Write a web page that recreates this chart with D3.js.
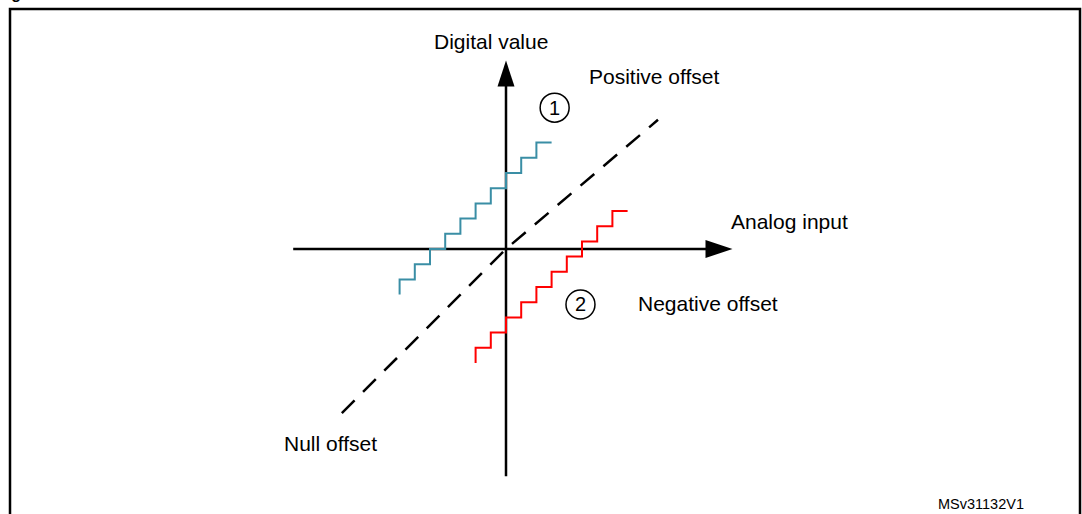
<!DOCTYPE html>
<html>
<head>
<meta charset="utf-8">
<script src="https://cdn.jsdelivr.net/npm/d3@7/dist/d3.min.js"></script>
<style>
  html, body { margin: 0; padding: 0; background: #fff; }
  svg { display: block; font-family: "Liberation Sans", Arial, sans-serif; }
</style>
</head>
<body>
<svg id="chart" width="1082" height="514"></svg>
<script>
// ---- data (in code-step units; origin = axis crossing) ----
const positiveX = [-7, -7, -6, -5, -4, -3, -2, -1, 0, 1, 2, 3];
const positiveY = [-3, -2, -1, 0, 1, 2, 3, 4, 5, 6, 7, 7];
const negativeX = [-2, -2, -1, 0, 1, 2, 3, 4, 5, 6, 7, 8];
const negativeY = [-7.5, -6.5, -5.5, -4.5, -3.5, -2.5, -1.5, -0.5, 0.5, 1.5, 2.5, 2.5];
const nullX = [-10.8, 0, 10.0];
const nullY = [-10.8, 0, 8.5];
const xAxisExtent = [-14.0, 14.9];
const yAxisExtent = [-14.95, 12.4];
const labels = ["Digital value", "Analog input", "Positive offset", "Negative offset", "Null offset"];
const markers = ["1", "2"];
const markerX = [3.2, 4.9];
const markerY = [9.3, -3.65];
const figureId = "MSv31132V1";

// ---- scales ----
const unit = 15.2;
const x = d3.scaleLinear().domain([-10, 10]).range([506 - 10 * unit, 506 + 10 * unit]);
const y = d3.scaleLinear().domain([-10, 10]).range([249 + 10 * unit, 249 - 10 * unit]);

const svg = d3.select("#chart");

// figure caption fragment (cut off at the top) and frame
svg.append("text").attr("x", -3).attr("y", -1)
  .attr("font-size", 16).attr("font-weight", "bold").attr("fill", "#000")
  .text("Figure");
svg.append("rect").attr("x", 10).attr("y", 9).attr("width", 1070).attr("height", 520)
  .attr("fill", "none").attr("stroke", "#000").attr("stroke-width", 2.5);

// axes
const x0 = x(0), y0 = y(0);
const ah = 27, aw = 9;
svg.append("line")
  .attr("x1", x(xAxisExtent[0])).attr("y1", y0)
  .attr("x2", x(xAxisExtent[1]) - ah + 2).attr("y2", y0)
  .attr("stroke", "#000").attr("stroke-width", 2.5);
svg.append("path")
  .attr("d", d3.line()([[x(xAxisExtent[1]), y0], [x(xAxisExtent[1]) - ah, y0 - aw], [x(xAxisExtent[1]) - ah, y0 + aw]]) + "Z")
  .attr("fill", "#000");
svg.append("line")
  .attr("x1", x0).attr("y1", y(yAxisExtent[0]))
  .attr("x2", x0).attr("y2", y(yAxisExtent[1]) + ah - 2)
  .attr("stroke", "#000").attr("stroke-width", 2.5);
svg.append("path")
  .attr("d", d3.line()([[x0, y(yAxisExtent[1])], [x0 - 8.5, y(yAxisExtent[1]) + 26], [x0 + 8.5, y(yAxisExtent[1]) + 26]]) + "Z")
  .attr("fill", "#000");

// null-offset dashed line
const lineGen = d3.line().x(d => x(d[0])).y(d => y(d[1]));
svg.append("path")
  .attr("d", lineGen(nullX.map((v, i) => [v, nullY[i]])))
  .attr("fill", "none").attr("stroke", "#000").attr("stroke-width", 2.5)
  .attr("stroke-dasharray", "18 12");

// staircases
const stepGen = d3.line().x(d => x(d[0])).y(d => y(d[1])).curve(d3.curveStepAfter);
svg.append("path")
  .attr("d", stepGen(positiveX.map((v, i) => [v, positiveY[i]])))
  .attr("fill", "none").attr("stroke", "#3a8ea5").attr("stroke-width", 2);
svg.append("path")
  .attr("d", stepGen(negativeX.map((v, i) => [v, negativeY[i]])))
  .attr("fill", "none").attr("stroke", "#ff0000").attr("stroke-width", 2);

// labels
const labelPos = [[434, 49], [731, 229], [589, 84], [638, 311], [284, 451]];
svg.selectAll("text.lbl").data(labels).enter().append("text")
  .attr("class", "lbl")
  .attr("x", (d, i) => labelPos[i][0]).attr("y", (d, i) => labelPos[i][1])
  .attr("font-size", 21).attr("fill", "#000")
  .text(d => d);

// circled markers
const mk = svg.selectAll("g.mk").data(markers).enter().append("g")
  .attr("class", "mk")
  .attr("transform", (d, i) => `translate(${x(markerX[i])},${y(markerY[i])})`);
mk.append("circle").attr("r", 14.5).attr("fill", "none").attr("stroke", "#000").attr("stroke-width", 1.5);
mk.append("text").attr("text-anchor", "middle").attr("y", 7).attr("font-size", 20).text(d => d);

// figure id
svg.append("text").attr("x", 938).attr("y", 509).attr("font-size", 14.5).attr("fill", "#000").text(figureId);
</script>
</body>
</html>
